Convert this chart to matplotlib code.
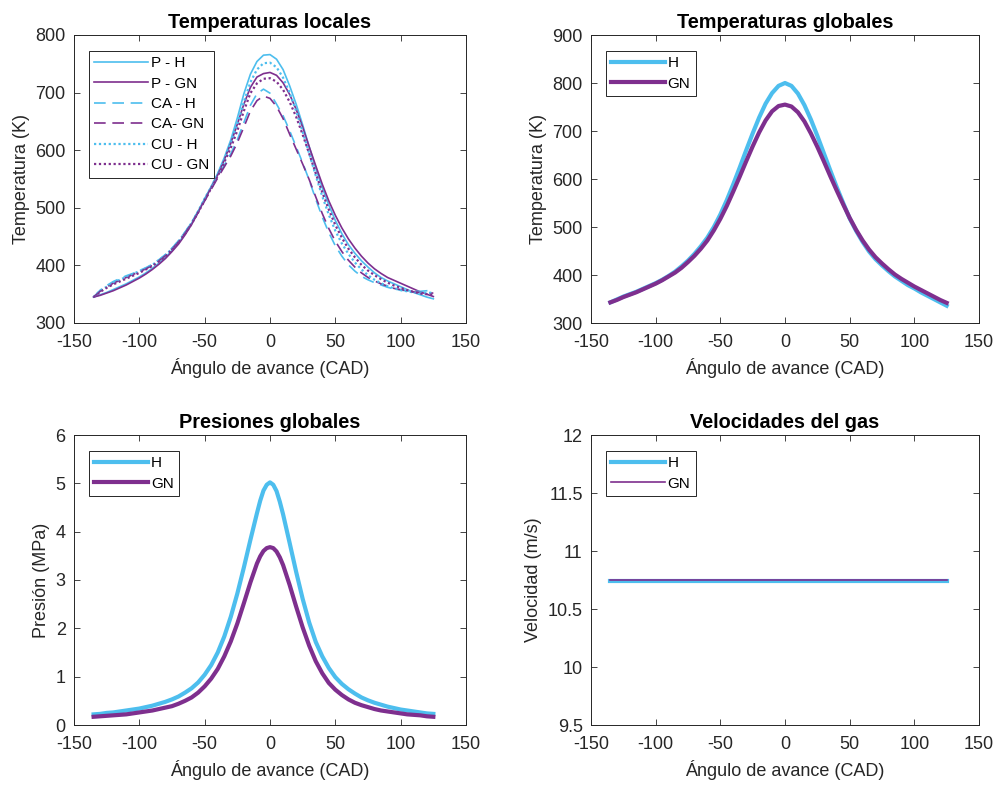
import matplotlib
matplotlib.use('Agg')
import matplotlib.pyplot as plt

plt.rcParams['font.family'] = ['Liberation Sans', 'DejaVu Sans']
plt.rcParams['axes.unicode_minus'] = False

# ---------------- data ----------------
angle = [-135, -130, -125, -120, -115, -110, -105, -100, -95, -90, -85, -80, -75, -70,
         -65, -60, -55, -50, -45, -40, -35, -30, -25, -20, -15, -10, -5, 0,
         5, 10, 15, 20, 25, 30, 35, 40, 45, 50, 55, 60, 65, 70, 75, 80, 85, 90,
         95, 100, 105, 110, 115, 120, 125]

# Local temperatures (K)
T_P_H = [345, 349, 353, 358, 363, 368, 374, 380, 387, 395, 404, 414, 426, 439, 455, 473, 494, 516,
         537, 560, 587, 618, 656, 698, 732, 754, 765, 766,
         758, 740, 712, 680, 644, 606, 569, 535, 505, 478, 455, 436, 421, 408, 397,
         387, 379, 373, 368, 363, 358, 353, 349, 345, 342]
T_P_GN = [345, 348, 352, 356, 361, 366, 372, 378, 385, 393, 402, 412, 424, 437, 453, 471, 492, 514,
          535, 557, 583, 612, 645, 680, 709, 727, 733, 735,
          730, 717, 697, 671, 640, 606, 573, 541, 512, 487, 465, 446, 430, 416, 404,
          394, 386, 379, 374, 369, 364, 359, 354, 350, 346]
T_CA_H = [345, 357, 365, 372, 377, 382, 386, 391, 396, 402, 410, 419, 430, 443, 458, 475, 494, 514,
          534, 554, 574, 594, 618, 648, 678, 698, 706, 699,
          680, 660, 634, 606, 578, 548, 515, 484, 457, 434, 416, 401, 390, 381, 375,
          370, 366, 362, 359, 357, 356, 355, 355, 356, 358]
T_CA_GN = [345, 355, 362, 369, 374, 379, 384, 389, 394, 400, 408, 417, 428, 441, 456, 473, 492, 512,
           532, 552, 571, 590, 613, 640, 668, 686, 694, 690,
           676, 655, 628, 602, 576, 549, 519, 490, 464, 442, 424, 409, 397, 387, 379,
           373, 368, 364, 360, 358, 356, 354, 353, 352, 352]
T_CU_H = [345, 356, 363, 370, 375, 380, 385, 390, 395, 401, 409, 418, 429, 442, 457, 474, 494, 516,
          536, 558, 583, 611, 645, 684, 718, 740, 751, 752,
          744, 726, 700, 668, 632, 594, 556, 520, 488, 460, 438, 420, 405, 393, 383,
          375, 369, 364, 360, 357, 355, 353, 352, 352, 353]
T_CU_GN = [345, 354, 361, 367, 372, 377, 382, 387, 393, 399, 407, 416, 427, 440, 455, 472, 492, 513,
           534, 555, 579, 604, 634, 668, 699, 716, 724, 725,
           719, 705, 684, 658, 627, 594, 560, 527, 497, 470, 448, 429, 414, 401, 391,
           383, 376, 370, 365, 361, 357, 354, 351, 350, 349]

# Global temperatures (K)
Tg_H = [343, 349, 355, 360, 365, 371, 377, 383, 390, 398, 407, 418, 430, 444, 460, 478, 500, 526,
        556, 589, 624, 660, 695, 728, 757, 779, 794, 800,
        794, 778, 754, 724, 690, 654, 618, 583, 550, 518, 492, 469, 449, 433, 420,
        408, 397, 388, 379, 372, 364, 357, 350, 343, 336]
Tg_GN = [343, 348, 354, 359, 364, 370, 376, 382, 389, 397, 405, 415, 427, 440, 455, 472, 493, 517,
         544, 574, 605, 637, 668, 697, 722, 741, 752, 755,
         751, 739, 720, 695, 667, 637, 606, 576, 547, 519, 494, 472, 453, 437, 424,
         412, 401, 392, 384, 376, 369, 362, 355, 348, 342]

# Global pressures (MPa), finer sampling around the peak
p_angle = [-135, -130, -125, -120, -115, -110, -105, -100, -95, -90, -85, -80, -75, -70,
           -65, -60, -55, -50, -45, -40, -35, -30, -25, -20, -15, -10, -7.5, -5, -2.5, 0,
           2.5, 5, 7.5, 10, 15, 20, 25, 30, 35, 40, 45, 50, 55, 60, 65, 70, 75, 80, 85, 90,
           95, 100, 105, 110, 115, 120, 125]
P_H = [0.22, 0.23, 0.25, 0.26, 0.28, 0.30, 0.32, 0.34, 0.37, 0.40, 0.44, 0.48, 0.53, 0.59,
       0.67, 0.76, 0.88, 1.04, 1.24, 1.50, 1.83, 2.24, 2.72, 3.26, 3.83, 4.38, 4.64, 4.85, 4.97, 5.02,
       4.97, 4.84, 4.62, 4.36, 3.77, 3.17, 2.61, 2.12, 1.72, 1.42, 1.18, 0.99, 0.85, 0.74, 0.65, 0.57,
       0.51, 0.46, 0.42, 0.38, 0.35, 0.32, 0.30, 0.28, 0.26, 0.24, 0.23]
P_GN = [0.17, 0.18, 0.19, 0.20, 0.21, 0.22, 0.24, 0.26, 0.28, 0.30, 0.33, 0.36, 0.39, 0.44,
        0.50, 0.57, 0.67, 0.80, 0.96, 1.16, 1.42, 1.73, 2.10, 2.52, 2.95, 3.34, 3.49, 3.60, 3.66, 3.68,
        3.66, 3.59, 3.47, 3.31, 2.90, 2.45, 2.02, 1.64, 1.32, 1.07, 0.87, 0.73, 0.62, 0.53, 0.46, 0.41,
        0.37, 0.33, 0.30, 0.28, 0.26, 0.24, 0.22, 0.21, 0.20, 0.18, 0.17]

# Gas velocities (m/s)
vel_angle = [-135, 125]
V_H = [10.745, 10.745]
V_GN = [10.75, 10.75]

xticks = [-150, -100, -50, 0, 50, 100, 150]

CYAN = '#4DBEEE'
PURPLE = '#7E2F8E'
DARK = '#262626'

W, H = 1000, 785
fig = plt.figure(figsize=(10, 7.85), dpi=100)


def make_ax(l, t, r, b):
    return fig.add_axes([l / W, 1 - b / H, (r - l) / W, (b - t) / H])


def style(ax, title, ylabel, ylim, yticks):
    ax.set_xlim(-150, 150)
    ax.set_xticks(xticks)
    ax.set_ylim(*ylim)
    ax.set_yticks(yticks)
    ax.tick_params(direction='in', top=True, right=True, length=4, width=0.6,
                   colors=DARK, labelsize=13)
    ax.tick_params(axis='x', pad=8)
    ax.tick_params(axis='y', pad=6)
    for s in ax.spines.values():
        s.set_color(DARK)
        s.set_linewidth(0.7)
    ax.set_title(title, fontsize=14.3, fontweight='bold', pad=5)
    ax.set_xlabel('Ángulo de avance (CAD)', fontsize=13, color=DARK, labelpad=5)
    ax.set_ylabel(ylabel, fontsize=13, color=DARK, labelpad=4)


def legend(ax):
    lg = ax.legend(loc='upper left', bbox_to_anchor=(0.038, 0.945), borderaxespad=0,
                   fontsize=11, fancybox=False, edgecolor=DARK, framealpha=1,
                   handlelength=3.5, handletextpad=0.2, labelspacing=0.42,
                   borderpad=0.35)
    lg.get_frame().set_linewidth(0.7)
    return lg


# ---- Temperaturas locales ----
ax1 = make_ax(74, 35, 466, 323)
lw = 1.2
ax1.plot(angle, T_P_H, color=CYAN, lw=lw, label='P - H')
ax1.plot(angle, T_P_GN, color=PURPLE, lw=lw, label='P - GN')
ax1.plot(angle, T_CA_H, color=CYAN, lw=lw, ls=(0, (7, 4)), label='CA - H')
ax1.plot(angle, T_CA_GN, color=PURPLE, lw=lw, ls=(0, (7, 4)), label='CA- GN')
ax1.plot(angle, T_CU_H, color=CYAN, lw=1.6, ls=(0, (1, 1.2)), label='CU - H')
ax1.plot(angle, T_CU_GN, color=PURPLE, lw=1.6, ls=(0, (1, 1.2)), label='CU - GN')
style(ax1, 'Temperaturas locales', 'Temperatura (K)', (300, 800), range(300, 801, 100))
legend(ax1)

# ---- Temperaturas globales ----
ax2 = make_ax(591, 35, 979, 323)
ax2.plot(angle, Tg_H, color=CYAN, lw=3, label='H', solid_joinstyle='round')
ax2.plot(angle, Tg_GN, color=PURPLE, lw=3, label='GN', solid_joinstyle='round')
style(ax2, 'Temperaturas globales', 'Temperatura (K)', (300, 900), range(300, 901, 100))
legend(ax2)

# ---- Presiones globales ----
ax3 = make_ax(74, 435, 466, 725)
ax3.plot(p_angle, P_H, color=CYAN, lw=3, label='H', solid_joinstyle='round')
ax3.plot(p_angle, P_GN, color=PURPLE, lw=3, label='GN', solid_joinstyle='round')
style(ax3, 'Presiones globales', 'Presión (MPa)', (0, 6), range(0, 7))
legend(ax3)

# ---- Velocidades del gas ----
ax4 = make_ax(591, 435, 979, 725)
ax4.plot(vel_angle, V_H, color=CYAN, lw=3, label='H')
ax4.plot(vel_angle, V_GN, color=PURPLE, lw=1.2, label='GN')
style(ax4, 'Velocidades del gas', 'Velocidad (m/s)', (9.5, 12), [9.5, 10, 10.5, 11, 11.5, 12])
ax4.set_yticklabels(['9.5', '10', '10.5', '11', '11.5', '12'])
legend(ax4)

fig.savefig('out.png', dpi=100)
